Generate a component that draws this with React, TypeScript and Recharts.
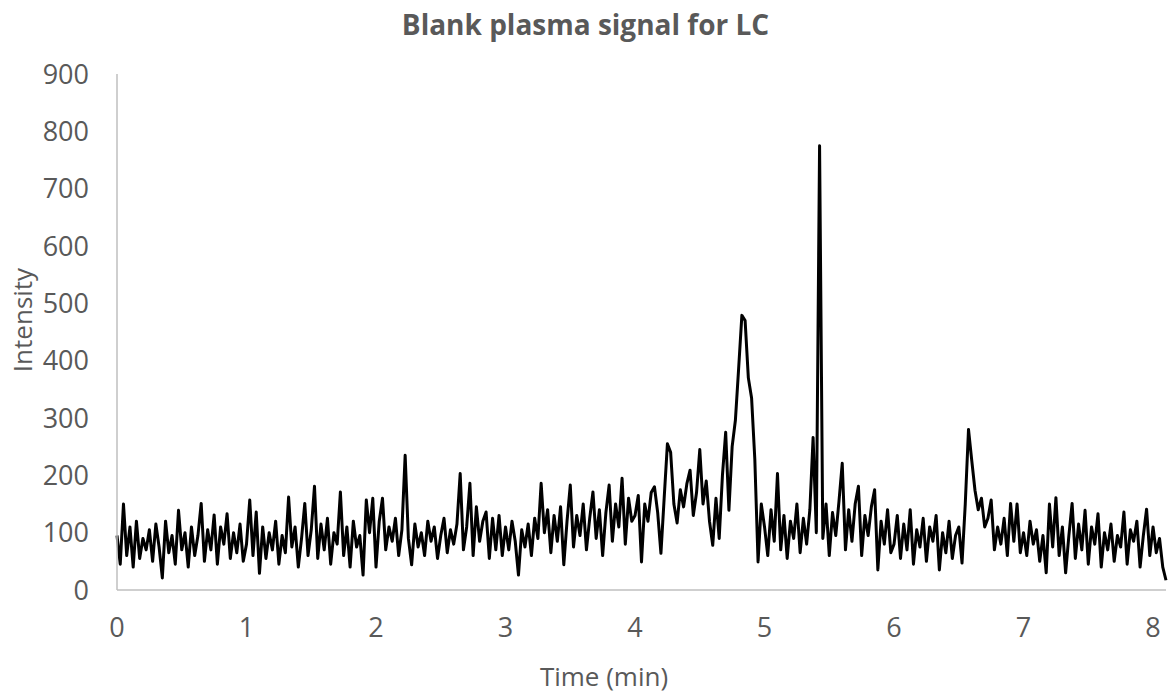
import { LineChart, Line, XAxis, YAxis, ResponsiveContainer } from "recharts"

// sampling grid of the trace, in minutes
const sampleStep = 0.025

// intensity readings, one list per minute (40 samples each)
const min0 = [95, 45, 150, 60, 110, 40, 120, 55, 90, 70, 105, 50, 115, 75, 21, 120, 65, 95, 45, 139, 70, 100, 40, 110, 60, 95, 151, 50, 105, 70, 131, 45, 110, 80, 133, 55, 100, 65, 115, 50]
const min1 = [80, 157, 60, 136, 29, 110, 55, 100, 70, 120, 45, 95, 65, 162, 75, 110, 40, 90, 151, 60, 105, 181, 55, 115, 70, 125, 45, 100, 80, 171, 60, 110, 40, 120, 75, 95, 26, 157, 100, 160]
const min2 = [40, 120, 160, 70, 110, 85, 125, 60, 105, 235, 90, 44, 115, 75, 100, 60, 120, 85, 110, 55, 95, 125, 65, 105, 80, 115, 203, 70, 110, 186, 60, 145, 85, 120, 136, 55, 125, 70, 130, 60]
const min3 = [110, 70, 120, 85, 26, 105, 75, 115, 60, 125, 90, 186, 100, 140, 65, 130, 85, 145, 44, 120, 183, 75, 130, 95, 150, 70, 125, 171, 90, 140, 60, 135, 183, 85, 150, 110, 195, 80, 160, 120]
const min4 = [130, 165, 49, 150, 120, 170, 180, 135, 64, 160, 255, 240, 150, 117, 175, 145, 185, 209, 130, 170, 245, 150, 190, 120, 78, 160, 90, 200, 275, 139, 250, 296, 386, 479, 470, 370, 335, 228, 49, 150]
const min5 = [110, 60, 140, 85, 203, 70, 130, 55, 120, 90, 150, 65, 125, 80, 140, 266, 100, 775, 90, 150, 60, 135, 95, 155, 221, 70, 140, 85, 150, 181, 60, 130, 95, 145, 175, 35, 120, 80, 140, 65]
const min6 = [80, 130, 55, 115, 70, 140, 45, 105, 75, 125, 50, 110, 85, 130, 35, 100, 65, 120, 55, 95, 110, 47, 150, 280, 226, 174, 140, 160, 110, 125, 157, 70, 110, 80, 125, 60, 151, 85, 150, 65]
const min7 = [100, 60, 120, 80, 105, 50, 95, 30, 150, 75, 161, 60, 110, 30, 95, 151, 55, 115, 70, 139, 45, 110, 80, 133, 40, 100, 70, 115, 50, 95, 75, 136, 45, 105, 85, 120, 40, 95, 141, 60]
const min8 = [110, 65, 90, 40, 17]

const intensity = [...min0, ...min1, ...min2, ...min3, ...min4, ...min5, ...min6, ...min7, ...min8]

const timeTicks = [0, 1, 2, 3, 4, 5, 6, 7, 8]
const intensityTicks = [0, 100, 200, 300, 400, 500, 600, 700, 800, 900]

const data = intensity.map((v, i) => ({ time: +(i * sampleStep).toFixed(3), intensity: v }))

const grey = "#595959"
const font = "'Open Sans', sans-serif"

export default function App() {
  return (
    <div style={{ position: "absolute", left: 0, top: 0, width: 1171, height: 695, background: "#fff", fontFamily: font }}>
      <div style={{ position: "absolute", left: 0, top: 5, width: 1171, textAlign: "center", fontSize: 28, fontWeight: 700, color: grey }}>
        Blank plasma signal for LC
      </div>
      <div
        style={{
          position: "absolute",
          left: 22,
          top: 320,
          transform: "translate(-50%, -50%) rotate(-90deg)",
          fontSize: 26,
          color: grey,
          whiteSpace: "nowrap",
        }}
      >
        Intensity
      </div>
      <div style={{ position: "absolute", left: 604, top: 676, transform: "translate(-50%, -50%)", fontSize: 26, color: grey, whiteSpace: "nowrap" }}>
        Time (min)
      </div>
      <div style={{ position: "absolute", left: 0, top: 0, width: 1171, height: 695 }}>
        <ResponsiveContainer width="100%" height="100%">
          <LineChart data={data} margin={{ top: 74, right: 5, bottom: 45, left: 0 }}>
            <XAxis
              dataKey="time"
              type="number"
              domain={[0, 8.1]}
              ticks={timeTicks}
              height={60}
              tickLine={false}
              tickSize={0}
              tickMargin={28}
              axisLine={{ stroke: "#bfbfbf", strokeWidth: 1.5 }}
              tick={{ fill: grey, fontSize: 27, fontFamily: font }}
            />
            <YAxis
              type="number"
              domain={[0, 900]}
              ticks={intensityTicks}
              width={117}
              tickLine={false}
              tickSize={0}
              tickMargin={28}
              axisLine={{ stroke: "#bfbfbf", strokeWidth: 1.5 }}
              tick={{ fill: grey, fontSize: 27, fontFamily: font }}
            />
            <Line
              dataKey="intensity"
              stroke="#000"
              strokeWidth={3}
              dot={false}
              isAnimationActive={false}
              strokeLinejoin="round"
            />
          </LineChart>
        </ResponsiveContainer>
      </div>
    </div>
  )
}
